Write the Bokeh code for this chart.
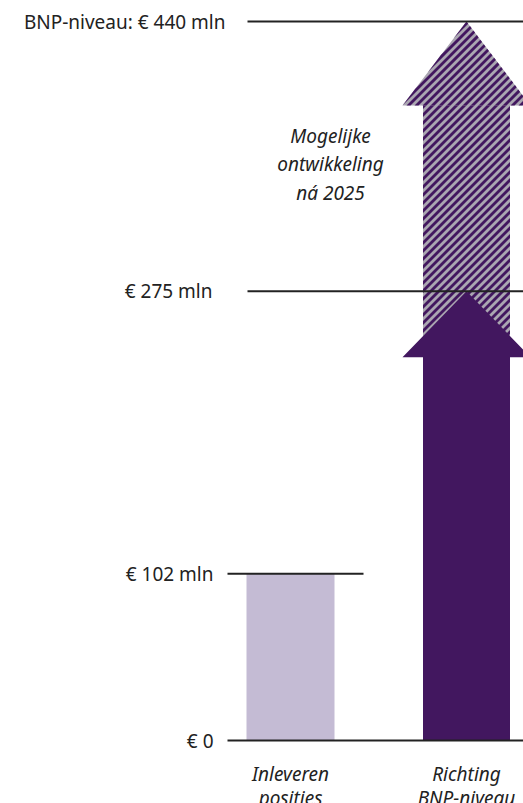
from bokeh.plotting import figure
from bokeh.models import Range1d
from bokeh.core.properties import value
from bokeh.embed import file_html
from bokeh.resources import INLINE

# ---- data ----
categories = ["Inleveren\nposities", "Richting\nBNP-niveau"]
bar_values = [102]                 # Inleveren posities
arrow_now = 275                    # Richting BNP-niveau (solid arrow tip)
arrow_future = 440                 # BNP-niveau (hatched arrow tip)
levels = [0, 102, 275, 440]
level_labels = ["€ 0", "€ 102 mln", "€ 275 mln", "BNP-niveau: € 440 mln"]
note = "Mogelijke\nontwikkeling\nná 2025"

# ---- layout ----
W, H = 523, 803
base_px, top_px = 740, 21
k = (base_px - top_px) / max(levels)          # px per unit
y0, y1 = -(H - base_px) / k, base_px / k

FONT = value("Noto Sans")
FS = "19px"
DARK = "#222222"
PURPLE = "#42175f"
LILAC = "#c4bbd4"
GREY = "#aaa6b1"

p = figure(width=W, height=H, x_range=Range1d(0, W), y_range=Range1d(y0, y1),
           output_backend="svg", toolbar_location=None, min_border=0,
           background_fill_color="white", border_fill_color="white")
p.axis.visible = False
p.grid.visible = False
p.outline_line_color = None

cx = [290, 466]           # category centres (px)
bar_w = 88
shaft_half = 43.5
head_half = 64

def to_px(v):
    return base_px - v * k

def to_val(ys):
    return (base_px - ys) / k

def arrow(c, tip, head_px):
    base = tip - head_px / k
    xs = [c - shaft_half, c - shaft_half, c - head_half, c, c + head_half,
          c + shaft_half, c + shaft_half]
    ys = [0, base, base, tip, base, base, 0]
    return xs, ys

def clip(poly, f):
    out = []
    n = len(poly)
    for i in range(n):
        P, Q = poly[i], poly[(i + 1) % n]
        fp, fq = f(P), f(Q)
        if fp >= 0:
            out.append(P)
        if (fp >= 0) != (fq >= 0):
            t = fp / (fp - fq)
            out.append((P[0] + t * (Q[0] - P[0]), P[1] + t * (Q[1] - P[1])))
    return out

def stripes(c, tip, head_px, period=8.0, band=4.0):
    """purple '/' stripes clipped to the arrow (pixel space, converted back)."""
    tip_px = to_px(tip)
    hb = tip_px + head_px
    pieces = [
        [(c - shaft_half, hb), (c + shaft_half, hb), (c + shaft_half, base_px), (c - shaft_half, base_px)],
        [(c - head_half, hb), (c, tip_px), (c + head_half, hb)],
    ]
    sx, sy = [], []
    lo = c - head_half + tip_px - period
    hi = c + head_half + base_px + period
    s = lo
    while s < hi:
        for piece in pieces:
            poly = clip(piece, lambda q, s=s: q[0] + q[1] - s)
            poly = clip(poly, lambda q, s=s: s + band - (q[0] + q[1]))
            if len(poly) >= 3:
                sx.append([q[0] for q in poly])
                sy.append([to_val(q[1]) for q in poly])
        s += period
    return sx, sy

# bar
p.vbar(x=[cx[0]], bottom=0, top=bar_values, width=bar_w, color=LILAC, line_color=None)

# hatched arrow (future)
xs, ys = arrow(cx[1], arrow_future, 84)
p.patch(xs, ys, fill_color=GREY, line_color=None)
sx, sy = stripes(cx[1], arrow_future, 84)
p.patches(sx, sy, fill_color=PURPLE, line_color=None)

# solid arrow
xs, ys = arrow(cx[1], arrow_now, 66)
p.patch(xs, ys, fill_color=PURPLE, line_color=None)

# level lines
line_x0 = [227, 227, 247, 247]
line_x1 = [W, 363, W, W]
p.segment(x0=line_x0, y0=levels, x1=line_x1, y1=levels, line_color=DARK, line_width=2)

# level labels
label_x = [213, 213, 212, 225]
p.text(x=label_x, y=levels, text=level_labels, text_font=FONT, text_font_size=FS,
       text_color=DARK, text_align="right", text_baseline="middle")

# category labels
p.text(x=cx, y=[0, 0], text=categories, text_font=FONT, text_font_size=FS,
       text_font_style="italic", text_color=DARK, text_align="center",
       text_baseline="top", y_offset=20, text_line_height=0.95)

# note
p.text(x=[330], y=[(base_px - 122) / k], text=[note], text_font=FONT, text_font_size=FS,
       text_font_style="italic", text_color=DARK, text_align="center",
       text_baseline="top", text_line_height=1.1)

open("out.html", "w").write(file_html(p, INLINE))
